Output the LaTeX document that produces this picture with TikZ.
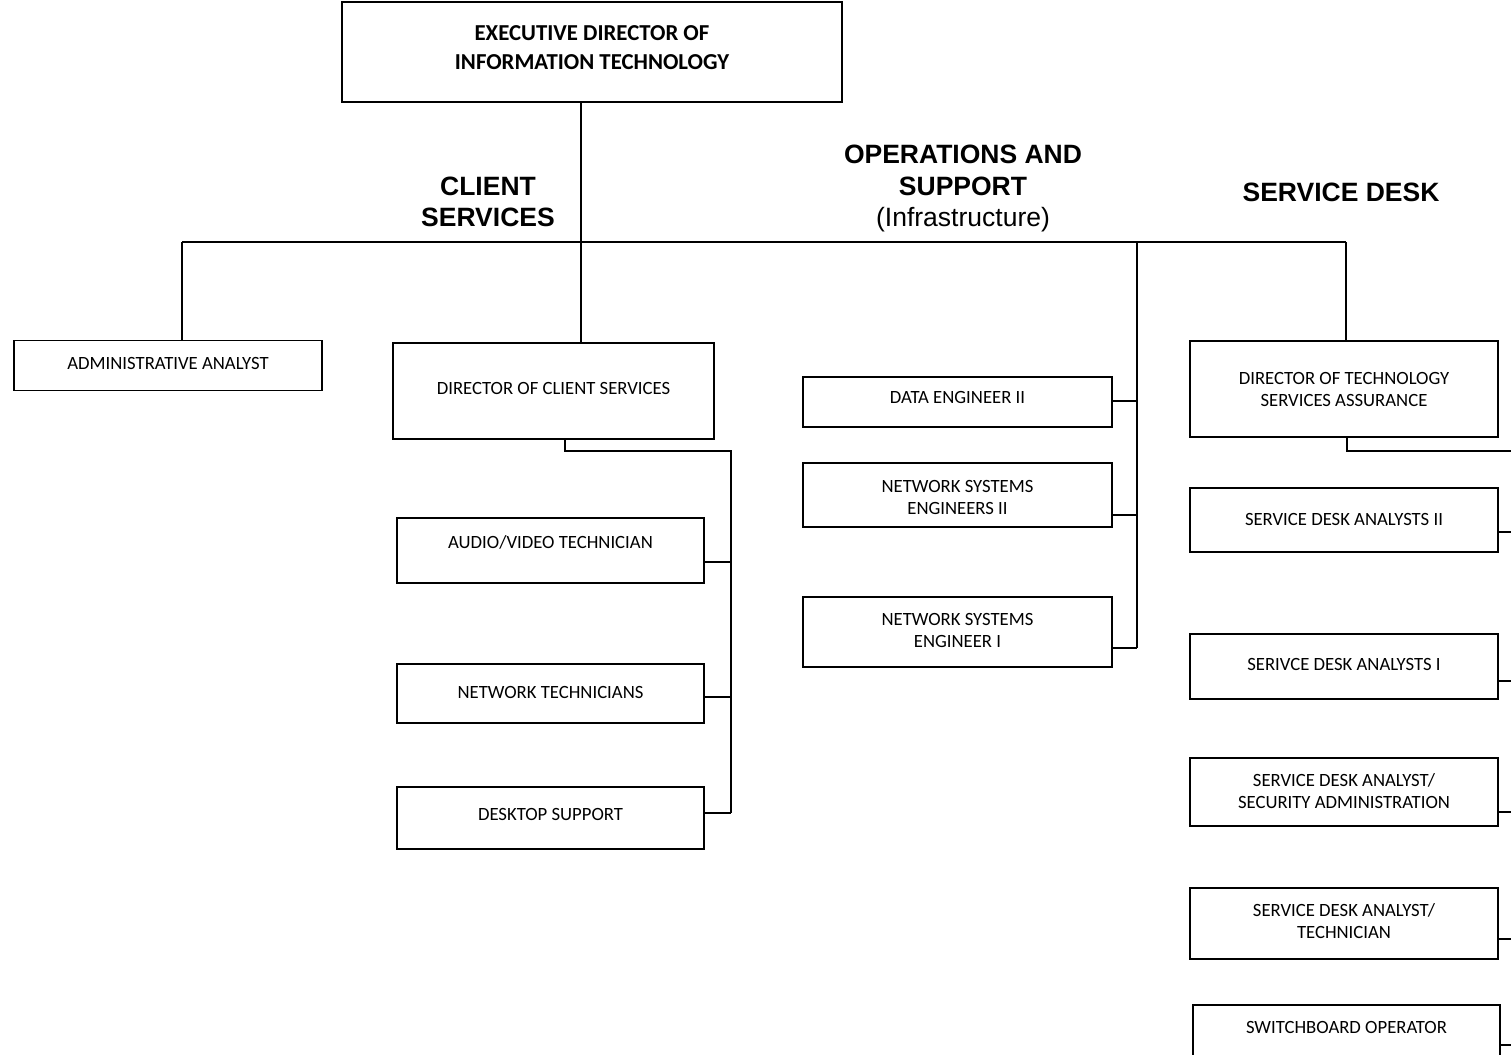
\documentclass[tikz,border=0pt]{standalone}
\usepackage{fontspec}
\setmainfont{Carlito}
\newfontfamily\hdfont{Liberation Sans}
\usetikzlibrary{calc}
\tikzset{
  box/.style={draw, line width=1.8pt, inner sep=0pt},
  lbl/.style={font=\fontsize{18.7}{22}\selectfont, align=center, inner sep=0pt},
  toplbl/.style={font=\bfseries\fontsize{22.8}{29}\selectfont, align=center, inner sep=0pt},
  hd/.style={font=\hdfont\fontsize{26.5}{31.5}\selectfont, align=center, inner sep=0pt},
  ln/.style={line width=1.8pt},
  thinln/.style={line width=1.3pt}
}
\begin{document}
\begin{tikzpicture}[x=1pt,y=-1pt]
\useasboundingbox (0,0) rectangle (1511,1054);
\clip (0,0) rectangle (1511,1054);
\fill[white] (0,0) rectangle (1511,1054);

% top box
\node[box, minimum width=500pt, minimum height=100pt] (exec) at (592,52) {};
\node[toplbl] (exect) at (592,47.5) {EXECUTIVE DIRECTOR OF\\INFORMATION TECHNOLOGY};

% headings
\node[hd] (hcs) at (488,202) {\bfseries CLIENT\\\bfseries SERVICES};
\node[hd] (hops) at (963,188.5) {\bfseries OPERATIONS AND\\\bfseries SUPPORT\\(Infrastructure)};
\node[hd] (hsd) at (1341,192) {\bfseries SERVICE DESK};

% left
\node[box, minimum width=308pt, minimum height=50pt] (admin) at (168,365.5) {};
\node[lbl] (admint) at (168,363) {ADMINISTRATIVE ANALYST};

% client services
\node[box, minimum width=321pt, minimum height=96pt] (dircs) at (553.5,391) {};
\node[lbl] (dircst) at (553.5,388) {DIRECTOR OF CLIENT SERVICES};
\node[box, minimum width=307pt, minimum height=65pt] (av) at (550.5,550.5) {};
\node[lbl] (avt) at (550.5,542) {AUDIO/VIDEO TECHNICIAN};
\node[box, minimum width=307pt, minimum height=59pt] (nt) at (550.5,693.5) {};
\node[lbl] (ntt) at (550.5,692) {NETWORK TECHNICIANS};
\node[box, minimum width=307pt, minimum height=62pt] (ds) at (550.5,818) {};
\node[lbl] (dst) at (550.5,814) {DESKTOP SUPPORT};

% operations
\node[box, minimum width=309pt, minimum height=50pt] (de2) at (957.5,402) {};
\node[lbl] (de2t) at (957.5,397) {DATA ENGINEER II};
\node[box, minimum width=309pt, minimum height=64pt] (nse2) at (957.5,495) {};
\node[lbl] (nse2t) at (957.5,497.5) {NETWORK SYSTEMS\\ENGINEERS II};
\node[box, minimum width=309pt, minimum height=70pt] (nse1) at (957.5,632) {};
\node[lbl] (nse1t) at (957.5,630.5) {NETWORK SYSTEMS\\ENGINEER I};

% service desk
\node[box, minimum width=308pt, minimum height=96pt] (dtsa) at (1344,389) {};
\node[lbl] (dtsat) at (1344,389.5) {DIRECTOR OF TECHNOLOGY\\SERVICES ASSURANCE};
\node[box, minimum width=308pt, minimum height=64pt] (sda2) at (1344,520) {};
\node[lbl] (sda2t) at (1344,519) {SERVICE DESK ANALYSTS II};
\node[box, minimum width=308pt, minimum height=65pt] (sda1) at (1344,666.5) {};
\node[lbl] (sda1t) at (1344,664) {SERIVCE DESK ANALYSTS I};
\node[box, minimum width=308pt, minimum height=68pt] (sec) at (1344,792) {};
\node[lbl] (sect) at (1344,791.5) {SERVICE DESK ANALYST/\\SECURITY ADMINISTRATION};
\node[box, minimum width=308pt, minimum height=71pt] (tech) at (1344,923.5) {};
\node[lbl] (techt) at (1344,921.5) {SERVICE DESK ANALYST/\\TECHNICIAN};
\node[box, minimum width=307pt, minimum height=70pt] (sw) at (1346.5,1040) {};
\node[lbl] (swt) at (1346.5,1027) {SWITCHBOARD OPERATOR};

% bus coordinates
\coordinate (hl) at (182,242);
\coordinate (hc) at (581,242);
\coordinate (ho) at (1137,242);
\coordinate (hr) at (1346,242);

\coordinate (dcs) at (565,451);
\coordinate (cb0) at (731,451);
\coordinate (cb1) at (731,562);
\coordinate (cb2) at (731,697);
\coordinate (cb3) at (731,813);

\coordinate (ob1) at (1137,401);
\coordinate (ob2) at (1137,515);
\coordinate (ob3) at (1137,648);

\coordinate (sdc) at (1347,451);
\coordinate (sb0) at (1522,451);
\coordinate (sb1) at (1522,532);
\coordinate (sb2) at (1522,681);
\coordinate (sb3) at (1522,812);
\coordinate (sb4) at (1522,939);
\coordinate (sb5) at (1522,1045);

% connectors
\draw[thinln] (exec.south -| hc) -- (hc);
\draw[ln] (hl) -- (hr);
\draw[ln] (hc) -- (dircs.north -| hc);
\draw[ln] (hl) -- (admin.north -| hl);
\draw[ln] (hr) -- (dtsa.north -| hr);

\draw[ln] (dircs.south -| dcs) -- (dcs) -- (cb0) -- (cb3);
\draw[ln] (av.east |- cb1) -- (cb1);
\draw[ln] (nt.east |- cb2) -- (cb2);
\draw[ln] (ds.east |- cb3) -- (cb3);

\draw[ln] (ho) -- (ob3);
\draw[ln] (de2.east |- ob1) -- (ob1);
\draw[ln] (nse2.east |- ob2) -- (ob2);
\draw[ln] (nse1.east |- ob3) -- (ob3);

\draw[ln] (dtsa.south -| sdc) -- (sdc) -- (sb0) -- (sb5);
\draw[ln] (sda2.east |- sb1) -- (sb1);
\draw[ln] (sda1.east |- sb2) -- (sb2);
\draw[ln] (sec.east |- sb3) -- (sb3);
\draw[ln] (tech.east |- sb4) -- (sb4);
\draw[ln] (sw.east |- sb5) -- (sb5);
\end{tikzpicture}
\end{document}
